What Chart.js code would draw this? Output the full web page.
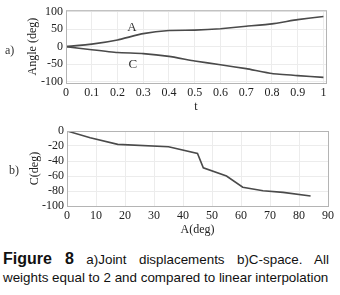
<!DOCTYPE html>
<html>
<head>
<meta charset="utf-8">
<script src="https://cdn.jsdelivr.net/npm/chart.js@4.4.1/dist/chart.umd.min.js"></script>
<style>
    body { margin: 0; width: 340px; height: 295px; background: #fff; position: relative; overflow: hidden; }
    .box { position: absolute; left: 0; width: 340px; }
    #topBox { top: 0; height: 115px; }
    #botBox { top: 120px; height: 117px; }
    .tag { position: absolute; font: 12px "Liberation Serif", serif; color: #333; }
    .cap { position: absolute; left: 3px; width: 326px; font: 13.4px "Liberation Sans", Arial, sans-serif; color: #111; white-space: nowrap; }
    #cap1 { top: 250px; text-align: justify; text-align-last: justify; white-space: normal; }
    #cap2 { top: 270px; }
    #cap1 b { font-size: 16px; }
</style>
</head>
<body>
<div class="box" id="topBox"><canvas id="jointChart"></canvas></div>
<div class="box" id="botBox"><canvas id="cspaceChart"></canvas></div>
<div class="tag" style="left:5px;top:43px">a)</div>
<div class="tag" style="left:9px;top:163px">b)</div>
<div class="cap" id="cap1"><b>Figure 8</b> a)Joint displacements b)C-space. All</div>
<div class="cap" id="cap2">weights equal to 2 and compared to linear interpolation</div>

<script>
// a) joint displacements vs t
const tValues = [0, 0.1, 0.2, 0.3, 0.4, 0.5, 0.6, 0.7, 0.8, 0.9, 1.0];
const angleA = [0, 7, 19, 37, 46, 47, 51, 58, 65, 77, 86];
const angleC = [0, -9, -17, -20, -28, -41, -52, -63, -77, -83, -88];
const tTicks = [0, 0.1, 0.2, 0.3, 0.4, 0.5, 0.6, 0.7, 0.8, 0.9, 1];
const angleTicks = [-100, -50, 0, 50, 100];

// b) C-space path
const cspaceA = [0, 8, 17.5, 35, 45, 47, 55, 60.6, 67.6, 74.5, 84];
const cspaceC = [0, -9, -17.8, -21, -30, -49, -60, -75, -79.6, -81.8, -86.7];
const aTicks = [0, 10, 20, 30, 40, 50, 60, 70, 80, 90];
const cTicks = [-100, -80, -60, -40, -20, 0];

const lineColor = '#4a4a4a';
const tickFont = {family: '"Liberation Serif", serif', size: 12};

// gray box round the plot area
const framePlugin = {
    id: 'frame',
    afterDraw(chart) {
        const {ctx, chartArea: a} = chart;
        ctx.save();
        ctx.strokeStyle = '#b4b4b4';
        ctx.lineWidth = 1;
        ctx.strokeRect(a.left + 0.5, a.top + 0.5, a.right - a.left, a.bottom - a.top);
        ctx.restore();
    }
};

// "A" and "C" next to the curves
const curveLabels = [
    {text: 'A', t: 0.256, v: 55},
    {text: 'C', t: 0.26, v: -52}
];
const curveLabelPlugin = {
    id: 'curveLabels',
    afterDatasetsDraw(chart) {
        const {ctx, scales} = chart;
        ctx.save();
        ctx.fillStyle = '#333';
        ctx.font = '13px "Liberation Serif", serif';
        ctx.textAlign = 'center';
        ctx.textBaseline = 'middle';
        curveLabels.forEach(l => {
            ctx.fillText(l.text, scales.x.getPixelForValue(l.t), scales.y.getPixelForValue(l.v));
        });
        ctx.restore();
    }
};

function fixedTicks(list) {
    return scale => { scale.ticks = list.map(v => ({value: v})); };
}

const gridStyle = {color: '#ececec', drawTicks: false, tickLength: 0};

new Chart(document.getElementById('jointChart'), {
    type: 'line',
    data: {
        datasets: [
            {label: 'A', data: tValues.map((t, i) => ({x: t, y: angleA[i]}))},
            {label: 'C', data: tValues.map((t, i) => ({x: t, y: angleC[i]}))}
        ].map(d => Object.assign(d, {borderColor: lineColor, borderWidth: 1.6, pointRadius: 0, tension: 0.15, fill: false}))
    },
    options: {
        responsive: true,
        maintainAspectRatio: false,
        animation: false,
        layout: {padding: {top: 10, right: 14, left: 0, bottom: 0}},
        plugins: {legend: {display: false}, tooltip: {enabled: false}},
        scales: {
            x: {
                type: 'linear', min: 0, max: 1.01,
                afterBuildTicks: fixedTicks(tTicks),
                afterFit: s => { s.height = 32; },
                grid: gridStyle,
                border: {display: false},
                ticks: {font: tickFont, color: '#222', padding: 3, maxRotation: 0, autoSkip: false,
                        callback: v => String(+v.toFixed(1))},
                title: {display: true, text: 't', font: tickFont, color: '#222', padding: {top: 0, bottom: 1}}
            },
            y: {
                min: -104, max: 104,
                afterBuildTicks: fixedTicks(angleTicks),
                afterFit: s => { s.width = 66; },
                grid: gridStyle,
                border: {display: false},
                ticks: {font: tickFont, color: '#222', padding: 3, autoSkip: false},
                title: {display: true, text: 'Angle (deg)', font: tickFont, color: '#222', padding: {top: 26, bottom: 0}}
            }
        }
    },
    plugins: [framePlugin, curveLabelPlugin]
});

new Chart(document.getElementById('cspaceChart'), {
    type: 'line',
    data: {
        datasets: [{
            label: 'C(A)',
            data: cspaceA.map((a, i) => ({x: a, y: cspaceC[i]})),
            borderColor: lineColor, borderWidth: 1.6, pointRadius: 0, tension: 0, fill: false
        }]
    },
    options: {
        responsive: true,
        maintainAspectRatio: false,
        animation: false,
        layout: {padding: {top: 11, right: 12, left: 0, bottom: 0}},
        plugins: {legend: {display: false}, tooltip: {enabled: false}},
        scales: {
            x: {
                type: 'linear', min: 0, max: 90,
                afterBuildTicks: fixedTicks(aTicks),
                afterFit: s => { s.height = 31; },
                grid: gridStyle,
                border: {display: false},
                ticks: {font: tickFont, color: '#222', padding: 3, maxRotation: 0, autoSkip: false},
                title: {display: true, text: 'A(deg)', font: tickFont, color: '#222', padding: {top: 0, bottom: 0}}
            },
            y: {
                min: -100, max: 0,
                afterBuildTicks: fixedTicks(cTicks),
                afterFit: s => { s.width = 67; },
                grid: gridStyle,
                border: {display: false},
                ticks: {font: tickFont, color: '#222', padding: 3, autoSkip: false},
                title: {display: true, text: 'C(deg)', font: tickFont, color: '#222', padding: {top: 28, bottom: 0}}
            }
        }
    },
    plugins: [framePlugin]
});
</script>
</body>
</html>
